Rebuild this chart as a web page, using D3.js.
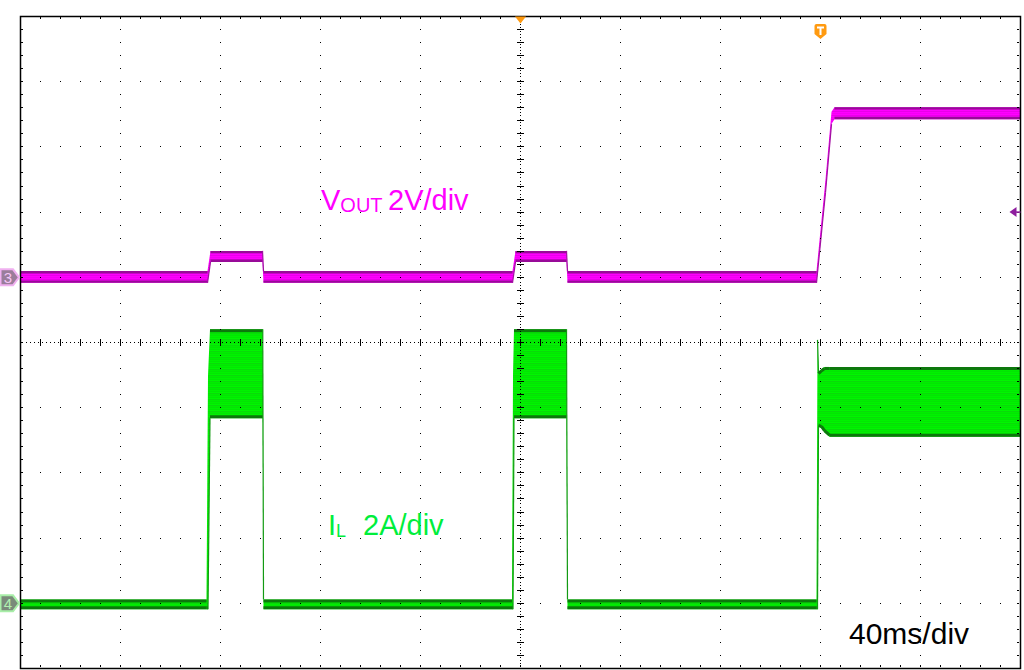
<!DOCTYPE html>
<html><head><meta charset="utf-8">
<script src="https://cdn.jsdelivr.net/npm/d3@7"></script>
<style>html,body{margin:0;padding:0;background:#fff;} svg{display:block;}</style>
</head><body>
<svg id="c" width="1024" height="670"></svg>
<script>
// ---- scope settings ----
const msPerDiv = 40;
const voltPerDiv = 2;
const ampPerDiv = 2;
const ch3OffsetDiv = 1;      // VOUT ground marker
const ch4OffsetDiv = -4;     // IL ground marker
const triggerTimeMs = 320;
const triggerLevelV = 2;
const timeLabel = "40ms/div";

// ---- VOUT envelope (time ms, low V, high V) ----
const voutTime = [0, 74.8, 76.0, 96.8, 97.2, 196.8, 198.0, 218.4, 218.8, 318.4, 322.0, 324.4, 325.6, 400];
const voutLow  = [-0.17, -0.17, 0.47, 0.47, -0.17, -0.17, 0.47, 0.47, -0.17, -0.17, 2.6, 4.70, 4.85, 4.85];
const voutHigh = [0.19, 0.19, 0.81, 0.81, 0.19, 0.19, 0.81, 0.81, 0.19, 0.19, 3.0, 5.08, 5.22, 5.22];

// ---- IL envelope (time ms, low A, high A) ----
const ilTime = [0, 74.4, 75.0, 75.8, 96.9, 97.2, 196.6, 197.0, 197.4, 218.4, 218.8, 318.4, 318.8, 319.2, 320.4, 321.6, 323.6, 400];
const ilLow  = [-0.18, -0.18, -0.18, 5.68, 5.68, -0.18, -0.18, -0.18, 5.68, 5.68, -0.18, -0.18, -0.18, 5.41, 5.38, 5.25, 5.11, 5.11];
const ilHigh = [0.12, 0.12, 6.97, 8.41, 8.41, 0.12, 0.12, 7.0, 8.41, 8.41, 0.12, 0.12, 8.08, 7.09, 7.18, 7.25, 7.25, 7.25];

const svg = d3.select("#c");
const nDivX = 10, nDivY = 10, minorPerDiv = 5;
const x = d3.scaleLinear().domain([0, nDivX * msPerDiv]).range([20.5, 1020.5]);
const yDiv = d3.scaleLinear().domain([-5, 5]).range([668.5, 16.5]);
const yV = v => yDiv(v / voltPerDiv + ch3OffsetDiv);
const yA = a => yDiv(a / ampPerDiv + ch4OffsetDiv);
const xDiv = d => x(d * msPerDiv);

// stripe patterns for the persistence look
const defs = svg.append("defs");
function stripes(id, rows) {
  const p = defs.append("pattern").attr("id", id).attr("patternUnits", "userSpaceOnUse")
    .attr("width", 8).attr("height", rows.length);
  rows.forEach((c, i) => p.append("rect").attr("x", 0).attr("y", i).attr("width", 8).attr("height", 1).attr("fill", c));
}
stripes("gstripe", ["#00f200", "#02e802", "#00f600", "#0ada0a", "#00ee00", "#04e404"]);
stripes("mstripe", ["#ff00ff", "#f400f4", "#ff00ff", "#ea00ea"]);

// ---- traces ----
function drawTrace(time, lo, hi, yf, fill, edge, ew, stepCol) {
  const pts = time.map((t, i) => ({t, lo: lo[i], hi: hi[i]}));
  svg.append("path").datum(pts)
    .attr("d", d3.area().x(d => x(d.t)).y0(d => yf(d.lo)).y1(d => yf(d.hi)))
    .attr("fill", fill);
  const g = svg.append("g").attr("fill", "none");
  for (let i = 0; i < pts.length - 1; i++) {
    const a = pts[i], b = pts[i + 1];
    const dx = x(b.t) - x(a.t);
    [["hi", ew / 2], ["lo", -ew / 2]].forEach(([k, off]) => {
      const dy = Math.abs(yf(b[k]) - yf(a[k]));
      if (dy < dx * 1.5) {
        g.append("line").attr("x1", x(a.t)).attr("x2", x(b.t))
          .attr("y1", yf(a[k]) + off).attr("y2", yf(b[k]) + off)
          .attr("stroke", edge).attr("stroke-width", ew);
      } else if (k === "lo" && yf(b.lo) < yf(a.lo) - 8 || k === "hi" && yf(b.hi) > yf(a.hi) + 8) {
        // thin step edge (rising on lo, falling on hi)
        g.append("line").attr("x1", x(a.t)).attr("x2", x(b.t))
          .attr("y1", yf(a[k])).attr("y2", yf(b[k]))
          .attr("stroke", stepCol).attr("stroke-width", 1.2);
      }
    });
  }
}
drawTrace(voutTime, voutLow, voutHigh, yV, "url(#mstripe)", "#980a98", 2.4, "#a010a0");
drawTrace(ilTime, ilLow, ilHigh, yA, "url(#gstripe)", "#0c780c", 3, "#139a13");

// ---- grid ----
const grid = svg.append("g");
const minorX = d3.range(1, nDivX * minorPerDiv);
const minorY = d3.range(1, nDivY * minorPerDiv);
const mx = k => xDiv(k / minorPerDiv);
const my = k => yDiv(-5 + k / minorPerDiv);
const dot = (px, py, w, h) => grid.append("rect")
  .attr("x", Math.floor(px)).attr("y", Math.floor(py)).attr("width", w || 1).attr("height", h || 1).attr("fill", "#000");

d3.range(1, nDivX).filter(i => i !== 5).forEach(i => minorY.forEach(k => dot(xDiv(i), my(k))));
d3.range(1, nDivY).filter(j => j !== 5).forEach(j => minorX.forEach(k => dot(mx(k), yDiv(-5 + j))));
const cx = xDiv(5), cy = yDiv(0);
d3.range(x.range()[0], x.range()[1], 4).forEach(px => dot(px + 2, cy));
d3.range(yDiv.range()[1], yDiv.range()[0], 13.04 / 4).forEach(py => dot(cx, py + 1.6));
minorX.forEach(k => dot(mx(k), cy - 3, 1, 7));
minorY.forEach(k => dot(cx - 3, my(k), 7, 1));
minorX.forEach(k => { dot(mx(k), yDiv(5) + 1, 1, 2); dot(mx(k), yDiv(-5) - 3, 1, 2); });
minorY.forEach(k => { dot(x.range()[0] + 1, my(k), 2, 1); dot(x.range()[1] - 3, my(k), 2, 1); });
grid.append("rect").attr("x", x.range()[0]).attr("y", yDiv(5))
  .attr("width", x.range()[1] - x.range()[0]).attr("height", yDiv(-5) - yDiv(5))
  .attr("fill", "none").attr("stroke", "#000").attr("stroke-width", 1.5);

// ---- labels ----
const font = "'Liberation Sans', Arial, sans-serif";
const t1 = svg.append("text").attr("x", 321).attr("y", 210).attr("font-family", font).attr("font-size", 29).attr("fill", "#ff00ff");
t1.append("tspan").text("V");
t1.append("tspan").attr("font-size", 20).attr("dy", 2).text("OUT");
t1.append("tspan").attr("x", 388).attr("dy", -2).text("2V/div");

const t2 = svg.append("text").attr("x", 328).attr("y", 535).attr("font-family", font).attr("font-size", 29).attr("fill", "#00ee3c");
t2.append("tspan").text("I");
t2.append("tspan").attr("font-size", 18).attr("dy", 2).text("L");
t2.append("tspan").attr("x", 363).attr("dy", -2).text("2A/div");

svg.append("text").attr("x", 849).attr("y", 644).attr("font-family", font).attr("font-size", 30).attr("fill", "#000").text(timeLabel);

// ---- markers ----
function chMarker(yc, label, stroke, fill, txt) {
  const g = svg.append("g").attr("transform", `translate(0,${yc})`);
  g.append("path").attr("d", "M0.5,-8 L13,-8 L19,0 L13,8 L0.5,8 Z")
    .attr("fill", fill).attr("stroke", stroke).attr("stroke-width", 2);
  g.append("text").attr("x", 8).attr("y", 5.5).attr("text-anchor", "middle")
    .attr("font-family", font).attr("font-size", 15).attr("fill", txt).text(label);
}
chMarker(yDiv(ch3OffsetDiv), "3", "#f0b0f0", "#9a7d9a", "#f6c6f6");
chMarker(yDiv(ch4OffsetDiv), "4", "#a8eea8", "#7a8a7a", "#b0f0b0");

const tp = xDiv(5);
svg.append("path").attr("d", `M${tp - 5.5},${yDiv(5)} L${tp + 5.5},${yDiv(5)} L${tp},${yDiv(5) + 7} Z`).attr("fill", "#ff9a10");
const tx = x(triggerTimeMs);
const tg = svg.append("g").attr("transform", `translate(${tx},24)`);
tg.append("path").attr("d", "M-6,2 Q-6,0 -4,0 L4,0 Q6,0 6,2 L6,10 L0,15 L-6,10 Z").attr("fill", "#ff9a10");
tg.append("path").attr("d", "M-3.5,2.5 H3.5 V4.5 H1 V11 H-1 V4.5 H-3.5 Z").attr("fill", "#fff");
const ty = yV(triggerLevelV);
svg.append("path").attr("d", `M${x.range()[1] - 11},${ty} L${x.range()[1] - 4},${ty - 5} L${x.range()[1] - 4},${ty + 5} Z`).attr("fill", "#8e1d9e");
svg.append("line").attr("x1", x.range()[1] - 5).attr("x2", x.range()[1]).attr("y1", ty).attr("y2", ty).attr("stroke", "#8e1d9e").attr("stroke-width", 1.5);
</script>
</body></html>
